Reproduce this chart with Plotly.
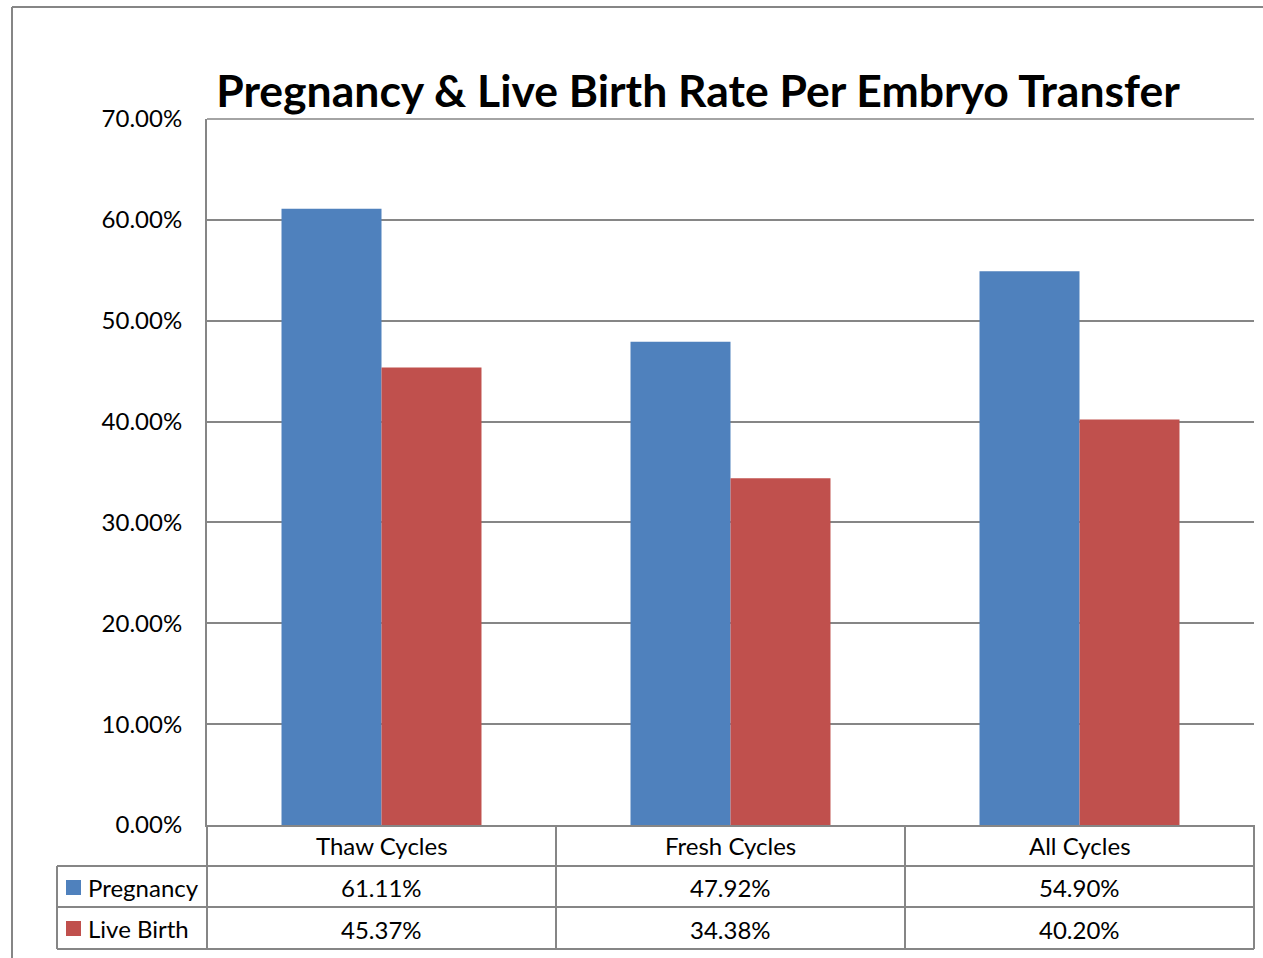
import plotly.graph_objects as go

categories = ["Thaw Cycles", "Fresh Cycles", "All Cycles"]
pregnancy = [0.6111, 0.4792, 0.5490]
live_birth = [0.4537, 0.3438, 0.4020]
series_names = ["Pregnancy", "Live Birth"]
colors = ["#4F81BD", "#C0504D"]
title_text = "Pregnancy & Live Birth Rate Per Embryo Transfer"

W, H = 1263, 958
L, R, T, B = 207, 1254, 119, 825
FONT = "Lato"
GRID = "#868686"
FS = 24

def px(xp):
    return (xp - L) / (R - L)

def py(yp):
    return (B - yp) / (B - T)

fig = go.Figure()
for name, vals, col in zip(series_names, [pregnancy, live_birth], colors):
    fig.add_trace(go.Bar(x=categories, y=vals, name=name, marker_color=col,
                         marker_line_width=0, showlegend=False))

shapes = []
line = dict(color=GRID, width=2)
# outer border
shapes.append(dict(type="line", xref="paper", yref="paper", x0=px(12), x1=px(1270), y0=py(7), y1=py(7), line=line))
shapes.append(dict(type="line", xref="paper", yref="paper", x0=px(12), x1=px(12), y0=py(7), y1=py(965), line=line))
# top gridline
shapes.append(dict(type="line", xref="paper", yref="paper", x0=0, x1=1, y0=1, y1=1,
                   line=dict(color=GRID, width=1.5)))
# table horizontals
for yy, x0 in [(866, 57), (907, 57), (949, 57)]:
    shapes.append(dict(type="line", xref="paper", yref="paper", x0=px(x0), x1=1, y0=py(yy), y1=py(yy), line=line))
# table verticals
shapes.append(dict(type="line", xref="paper", yref="paper", x0=px(57), x1=px(57), y0=py(866), y1=py(949), line=line))
for xv in [0, 1]:
    shapes.append(dict(type="line", xref="paper", yref="paper", x0=xv, x1=xv, y0=0, y1=py(949), line=line))
for xc in [0.5, 1.5]:
    shapes.append(dict(type="line", xref="x", yref="paper", x0=xc, x1=xc, y0=0, y1=py(949), line=line))
# legend keys
for yy, col in [(880, colors[0]), (921, colors[1])]:
    shapes.append(dict(type="rect", xref="paper", yref="paper", x0=px(66), x1=px(81),
                       y0=py(yy), y1=py(yy + 15), fillcolor=col, line_width=0))

annotations = []
tf = dict(family=FONT, size=FS, color="#000000")
for i, c in enumerate(categories):
    annotations.append(dict(x=c, xref="x", yref="paper", y=py(846), text=c, showarrow=False, font=tf,
                            xanchor="center", yanchor="middle"))
    annotations.append(dict(x=c, xref="x", yref="paper", y=py(887), text=f"{pregnancy[i]*100:.2f}%",
                            showarrow=False, font=tf, xanchor="center", yanchor="middle"))
    annotations.append(dict(x=c, xref="x", yref="paper", y=py(929), text=f"{live_birth[i]*100:.2f}%",
                            showarrow=False, font=tf, xanchor="center", yanchor="middle"))
for yy, nm in [(887, series_names[0]), (928, series_names[1])]:
    annotations.append(dict(x=px(86), xref="paper", yref="paper", y=py(yy), text=nm, showarrow=False,
                            font=tf, xanchor="left", yanchor="middle"))

fig.update_layout(
    width=W, height=H,
    margin=dict(l=L, r=W - R, t=T, b=H - B),
    paper_bgcolor="white", plot_bgcolor="white",
    barmode="group", bargap=0.427, bargroupgap=0,
    title=dict(text=title_text, x=698 / W, xanchor="center", y=1 - 91 / H, yanchor="middle",
               font=dict(family=FONT, size=44.5, color="#000000", weight="bold")),
    xaxis=dict(showticklabels=False, showgrid=False, zeroline=False, showline=True,
               linecolor=GRID, linewidth=2, ticks="", range=[-0.5, 2.5]),
    yaxis=dict(range=[0, 0.7], dtick=0.1, tickformat=".2%", showgrid=True, gridcolor=GRID, gridwidth=1.5,
               zeroline=False, showline=True, linecolor=GRID, linewidth=2, ticks="",
               ticklabelstandoff=18, tickfont=dict(family=FONT, size=FS, color="#000000")),
    shapes=shapes, annotations=annotations,
)

fig.write_html("out.html", config={"displayModeBar": False},
               post_script="document.body.style.margin='0';document.body.style.padding='0';")
